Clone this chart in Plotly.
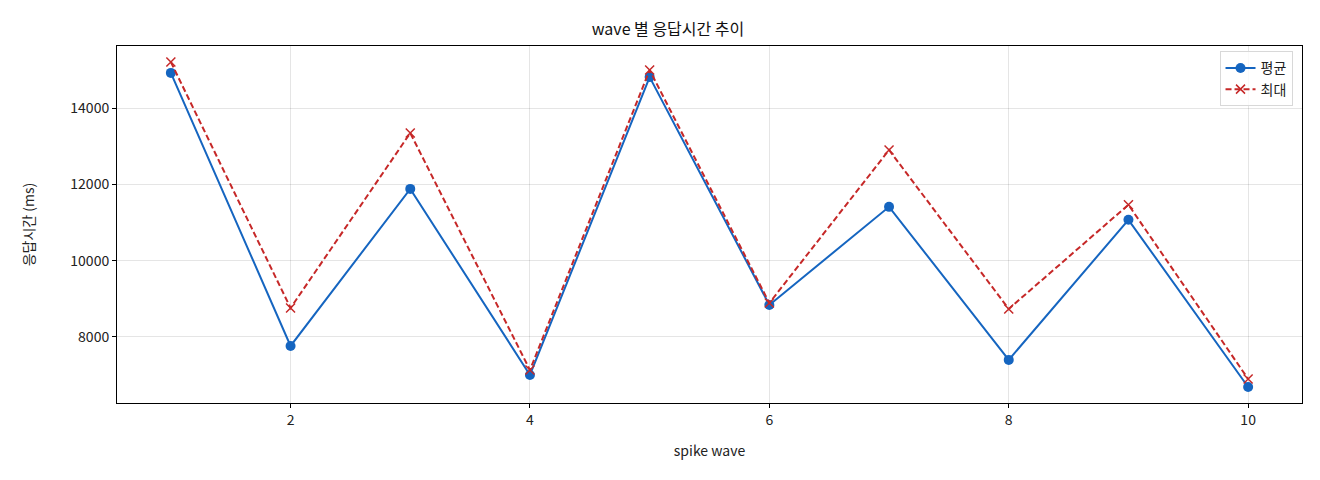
import plotly.graph_objects as go

# wave별 응답시간 (ms)
waves = [1, 2, 3, 4, 5, 6, 7, 8, 9, 10]
avg_ms = [14920, 7765, 11880, 7005, 14810, 8840, 11410, 7400, 11070, 6690]
max_ms = [15205, 8760, 13345, 7135, 14995, 8890, 12900, 8735, 11465, 6900]

BLUE = '#1565C0'
RED = '#C62828'
FONT = 'Noto Sans CJK KR'

fig = go.Figure()
fig.add_trace(go.Scatter(
    x=waves, y=avg_ms, name='평균',
    mode='lines+markers',
    line=dict(color=BLUE, width=2),
    marker=dict(symbol='circle', size=10, color=BLUE)))
fig.add_trace(go.Scatter(
    x=waves, y=max_ms, name='최대',
    mode='lines+markers',
    line=dict(color=RED, width=2, dash='6px,3px'),
    marker=dict(symbol='x-thin', size=9, line=dict(color=RED, width=1.5))))

# page has an 8px body margin, so margins are shifted to compensate
fig.update_layout(
    width=1320, height=480,
    margin=dict(l=109, r=26, t=38, b=85),
    plot_bgcolor='white', paper_bgcolor='white',
    font=dict(family=FONT, size=14, color='#222'),
    title=dict(text='wave 별 응답시간 추이', x=0.5, xanchor='center',
               y=0.956, yanchor='middle', font=dict(size=16, color='#111')),
    legend=dict(x=0.992, y=0.985, xanchor='right', yanchor='top',
                bgcolor='rgba(255,255,255,0.8)', bordercolor='#d8d8d8',
                borderwidth=1, font=dict(size=14)),
    showlegend=True,
)
fig.update_xaxes(
    range=[0.55, 10.45], tickvals=[2, 4, 6, 8, 10],
    showgrid=True, gridcolor='rgba(0,0,0,0.1)', gridwidth=1,
    showline=True, linecolor='black', linewidth=1, mirror=True,
    ticks='outside', ticklen=4, tickcolor='black', zeroline=False,
    title=dict(text='spike wave', font=dict(size=14), standoff=18))
fig.update_yaxes(
    range=[6270, 15625], tickvals=[8000, 10000, 12000, 14000],
    tickformat='d',
    showgrid=True, gridcolor='rgba(0,0,0,0.1)', gridwidth=1,
    showline=True, linecolor='black', linewidth=1, mirror=True,
    ticks='outside', ticklen=4, tickcolor='black', zeroline=False,
    title=dict(text='응답시간 (ms)', font=dict(size=14), standoff=32))

fig.write_html('out.html')
